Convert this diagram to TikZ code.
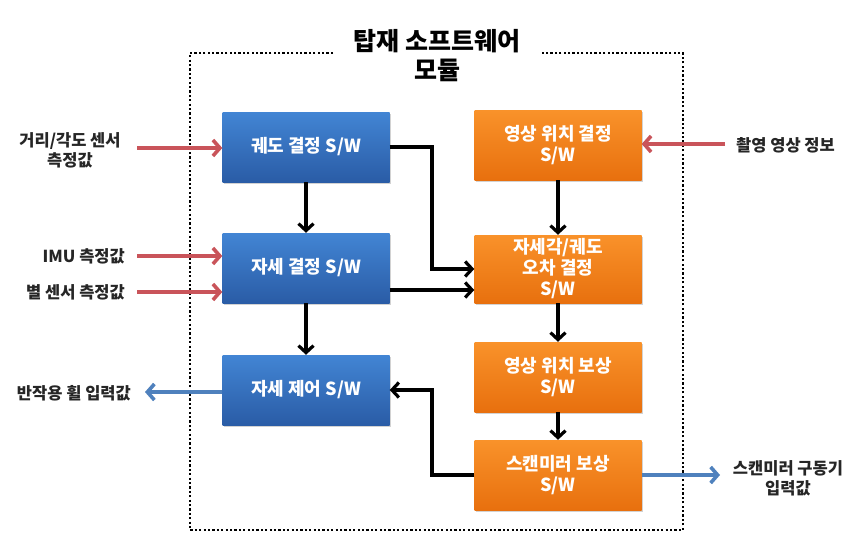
\documentclass[tikz,border=0pt]{standalone}
\usepackage{fontspec}
\setmainfont{Noto Sans CJK KR}
\usetikzlibrary{arrows.meta,shadows,calc}
\definecolor{bluetop}{HTML}{4285D4}
\definecolor{bluebot}{HTML}{2A5CA6}
\definecolor{orgtop}{HTML}{F9922A}
\definecolor{orgbot}{HTML}{E8700E}
\definecolor{inred}{HTML}{C9545A}
\definecolor{outblue}{HTML}{4F81BD}
\begin{document}
\begin{tikzpicture}[x=1pt,y=-1pt,
  box/.style={minimum width=167pt, minimum height=70pt, inner sep=2pt, align=center,
    text=white, font=\fontsize{18}{21}\selectfont\bfseries,
    drop shadow={shadow xshift=1.5pt, shadow yshift=-1.5pt, opacity=0.35}},
  bluebox/.style={box, top color=bluetop, bottom color=bluebot},
  orgbox/.style={box, top color=orgtop, bottom color=orgbot},
  flow/.style={line width=3.4pt, black, -{Straight Barb[length=7pt,width=15pt,line width=3.2pt]}},
  inarr/.style={line width=4pt, inred, -{Straight Barb[length=7pt,width=16pt,line width=3.6pt]}},
  outarr/.style={line width=4pt, outblue, -{Straight Barb[length=7pt,width=16pt,line width=3.6pt]}},
  lbl/.style={font=\fontsize{16.5}{20}\selectfont\bfseries, text=black!85, inner sep=0pt, align=center},
  frame/.style={line width=2.2pt, dash pattern=on 2.2pt off 2.2pt, black}
]
\useasboundingbox (0,0) rectangle (866,546);
\fill[white] (0,0) rectangle (866,546);

% frame
\draw[frame] (333,53) -- (190,53) -- (190,530) -- (683,530) -- (683,53) -- (542,53);
\node[font=\fontsize{25}{29}\selectfont\bfseries, align=center] (title) at (437,56) {탑재 소프트웨어\\모듈};

% boxes
\node[bluebox] (B1) at (306,147) {궤도 결정 S/W};
\node[bluebox] (B2) at (306,268) {자세 결정 S/W};
\node[bluebox] (B3) at (306,390) {자세 제어 S/W};
\node[orgbox] (O1) at (558,145) {영상 위치 결정\\S/W};
\node[orgbox, minimum height=68pt] (O2) at (558,269) {자세각/궤도\\오차 결정\\S/W};
\node[orgbox] (O3) at (558,377) {영상 위치 보상\\S/W};
\node[orgbox] (O4) at (558,475) {스캔미러 보상\\S/W};

% internal flow
\coordinate (j1) at (432,0);
\draw[flow] (B1) -- (B2);
\draw[flow] (B2) -- (B3);
\draw[flow] (O1) -- (O2);
\draw[flow] (O2) -- (O3);
\draw[flow] (O3) -- (O4);
\draw[flow] (B1.east) -- (B1.east -| j1) |- (O2.west);
\draw[flow] ([yshift=-22pt]B2.east) -- ([yshift=-22pt]B2.east -| O2.west);
\draw[flow] (O4.west) -- (O4.west -| j1) |- (B3.east);

% inputs
\coordinate (r1) at (137,148);
\coordinate (r2) at (137,256);
\coordinate (r3) at (137,292);
\coordinate (r4) at (725,144);
\draw[inarr] (r1) -- (r1 -| B1.west);
\draw[inarr] (r2) -- (r2 -| B2.west);
\draw[inarr] (r3) -- (r3 -| B2.west);
\draw[inarr] (r4) -- (r4 -| O1.east);

% outputs
\coordinate (o1) at (145,392);
\coordinate (o2) at (720,475);
\draw[outarr] (o1 -| B3.west) -- (o1);
\draw[outarr] (O4.east) -- (o2);

% labels
\node[lbl] (L1) at (70,150) {거리/각도 센서\\측정값};
\node[lbl, anchor=east] (L2) at (125,256) {IMU 측정값};
\node[lbl, anchor=east] (L3) at (125,292) {별 센서 측정값};
\node[lbl, anchor=west] (L4) at (736,145) {촬영 영상 정보};
\node[lbl, anchor=east] (L5) at (131,393) {반작용 휠 입력값};
\node[lbl] (L6) at (788,478) {스캔미러 구동기\\입력값};
\end{tikzpicture}
\end{document}
